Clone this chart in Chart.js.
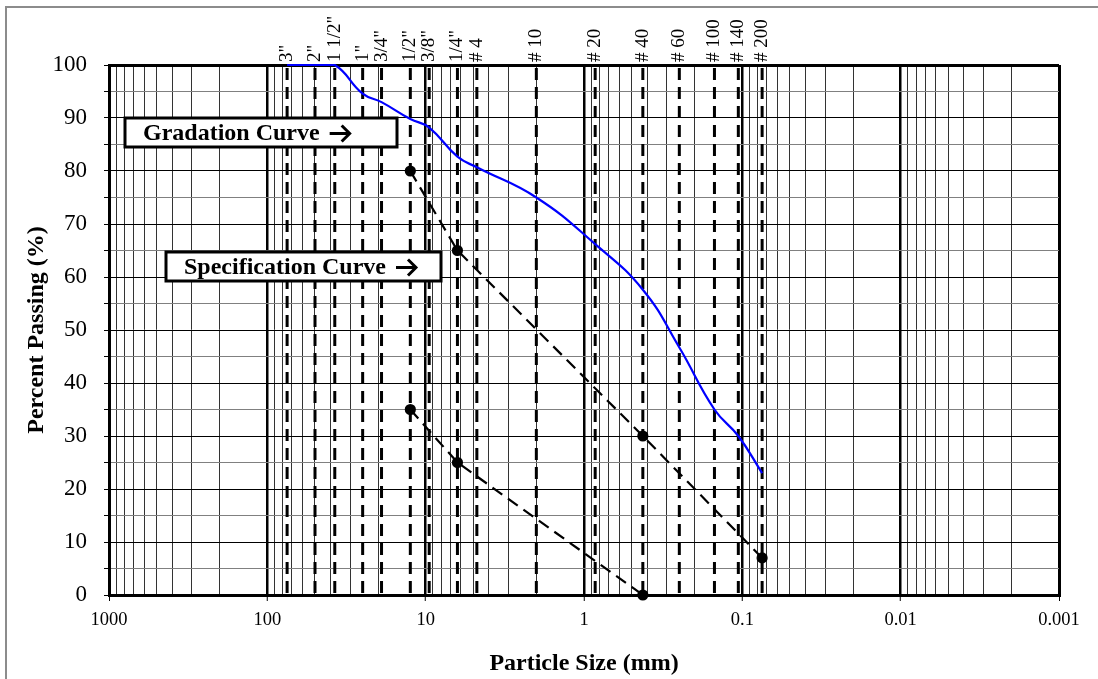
<!DOCTYPE html>
<html>
<head>
<meta charset="utf-8">
<script src="https://cdn.jsdelivr.net/npm/chart.js@4.4.1/dist/chart.umd.min.js"></script>
<style>
  html, body { margin: 0; padding: 0; background: #fff; }
  #wrap { position: relative; width: 1098px; height: 679px; }
</style>
</head>
<body>
<div id="wrap"><canvas id="gradChart" width="1098" height="679"></canvas></div>
<script>
// sieve openings (mm) and their names
const sieveLabels = ['3"', '2"', '1 1/2"', '1"', '3/4"', '1/2"', '3/8"', '1/4"', '# 4', '# 10', '# 20', '# 40', '# 60', '# 100', '# 140', '# 200'];
const sieveSizes = [75, 50, 37.5, 25, 19, 12.5, 9.5, 6.3, 4.75, 2.0, 0.85, 0.425, 0.25, 0.15, 0.106, 0.075];

// gradation curve, % passing at each sieve
const gradPassing = [100, 100, 100, 94.6, 93, 89.8, 88.2, 82.7, 80.7, 75, 66.2, 57.6, 46.7, 35, 30, 23];

// specification band
const specUpperSizes = [12.5, 6.3, 0.425, 0.075];
const specUpperPassing = [80, 65, 30, 7];
const specLowerSizes = [12.5, 6.3, 0.425];
const specLowerPassing = [35, 25, 0];

const xMin = 0.001, xMax = 1000;
const yMin = 0, yMax = 100, yStep = 5;

// 1..9 x 10^n lines for the log grid
const xGridValues = [];
for (let e = -3; e <= 2; e++) {
  for (let m = 1; m <= 9; m++) xGridValues.push(Number((m * Math.pow(10, e)).toPrecision(6)));
}
xGridValues.push(1000);

const isDecade = v => Math.abs(Math.log10(v) - Math.round(Math.log10(v))) < 1e-6;
const pair = (xs, ys) => xs.map((x, i) => ({ x: x, y: ys[i] }));

const serif = '"Liberation Serif", "Times New Roman", serif';

const sieveSets = sieveSizes.map(s => ({
  data: [{ x: s, y: yMax }, { x: s, y: yMin }],
  borderColor: '#000',
  borderWidth: 3,
  borderDash: [12, 7],
  borderDashOffset: -3,
  pointRadius: 0,
  tension: 0
}));

// outer frame
const framePlugin = {
  id: 'frame',
  beforeDraw(chart) {
    const ctx = chart.ctx;
    ctx.save();
    ctx.fillStyle = '#fff';
    ctx.fillRect(0, 0, chart.width, chart.height);
    ctx.strokeStyle = '#8c8c8c';
    ctx.lineWidth = 2;
    ctx.beginPath();
    ctx.moveTo(6, chart.height);
    ctx.lineTo(6, 7);
    ctx.lineTo(chart.width, 7);
    ctx.stroke();
    ctx.restore();
  }
};

// boxed labels
const boxes = [
  { text: 'Gradation Curve', left: 125, top: 118, width: 272, height: 29 },
  { text: 'Specification Curve', left: 166, top: 252, width: 275, height: 29 }
];

function drawArrow(ctx, x, cy) {
  ctx.save();
  ctx.strokeStyle = '#000';
  ctx.lineWidth = 3;
  ctx.lineCap = 'butt';
  ctx.lineJoin = 'miter';
  ctx.beginPath();
  ctx.moveTo(x, cy);
  ctx.lineTo(x + 19, cy);
  ctx.stroke();
  ctx.beginPath();
  ctx.moveTo(x + 12, cy - 8);
  ctx.lineTo(x + 20, cy);
  ctx.lineTo(x + 12, cy + 8);
  ctx.stroke();
  ctx.restore();
}

const labelPlugin = {
  id: 'labels',
  afterDatasetsDraw(chart) {
    const ctx = chart.ctx;
    ctx.save();
    boxes.forEach(b => {
      ctx.fillStyle = '#fff';
      ctx.fillRect(b.left, b.top, b.width, b.height);
      ctx.strokeStyle = '#000';
      ctx.lineWidth = 3;
      ctx.strokeRect(b.left, b.top, b.width, b.height);
      ctx.fillStyle = '#000';
      ctx.font = 'bold 24px ' + serif;
      ctx.textAlign = 'left';
      ctx.textBaseline = 'middle';
      const cy = b.top + b.height / 2 + 1;
      ctx.fillText(b.text, b.left + 18, cy);
      const w = ctx.measureText(b.text).width;
      drawArrow(ctx, b.left + 18 + w + 10, cy);
    });
    ctx.restore();
  },
  afterDraw(chart) {
    const ctx = chart.ctx;
    const xs = chart.scales.x;
    ctx.save();
    ctx.fillStyle = '#000';
    ctx.font = '19px ' + serif;
    ctx.textAlign = 'left';
    ctx.textBaseline = 'middle';
    sieveSizes.forEach((s, i) => {
      const px = xs.getPixelForValue(s);
      ctx.save();
      ctx.translate(px, chart.chartArea.top - 3);
      ctx.rotate(-Math.PI / 2);
      ctx.fillText(sieveLabels[i], 0, 0);
      ctx.restore();
    });
    ctx.restore();
  }
};

new Chart(document.getElementById('gradChart').getContext('2d'), {
  type: 'line',
  data: {
    datasets: [
      {
        label: 'Gradation Curve',
        data: pair(sieveSizes, gradPassing),
        borderColor: '#0000ff',
        borderWidth: 2.2,
        pointRadius: 0,
        tension: 0.45,
        clip: { left: 5, right: 5, top: 1, bottom: 5 }
      },
      {
        label: 'Specification Upper',
        data: pair(specUpperSizes, specUpperPassing),
        borderColor: '#000',
        borderWidth: 2.2,
        borderDash: [12, 7],
        pointRadius: 4.5,
        pointBackgroundColor: '#000',
        pointBorderColor: '#000',
        tension: 0,
        clip: false
      },
      {
        label: 'Specification Lower',
        data: pair(specLowerSizes, specLowerPassing),
        borderColor: '#000',
        borderWidth: 2.2,
        borderDash: [12, 7],
        pointRadius: 4.5,
        pointBackgroundColor: '#000',
        pointBorderColor: '#000',
        tension: 0,
        clip: false
      },
      ...sieveSets
    ]
  },
  options: {
    responsive: false,
    animation: false,
    layout: { padding: { top: 65, right: 39, left: 0, bottom: 0 } },
    plugins: {
      legend: { display: false },
      tooltip: { enabled: false }
    },
    scales: {
      x: {
        type: 'logarithmic',
        reverse: true,
        min: xMin,
        max: xMax,
        afterBuildTicks: scale => { scale.ticks = xGridValues.map(v => ({ value: v })); },
        afterFit: scale => { scale.height = 84; },
        ticks: {
          autoSkip: false,
          maxRotation: 0,
          padding: 8,
          color: '#000',
          font: { family: serif, size: 18.5 },
          callback: v => isDecade(v) ? String(v) : ''
        },
        grid: {
          color: c => isDecade(c.tick.value) ? '#000' : '#333',
          lineWidth: c => {
            const v = c.tick.value;
            if (v === xMin || v === xMax) return 3;
            return isDecade(v) ? 2.5 : 1;
          },
          tickColor: c => isDecade(c.tick.value) ? '#000' : 'rgba(0,0,0,0)',
          tickWidth: 1,
          tickLength: 6
        },
        border: { color: '#000', width: 3 },
        title: {
          display: true,
          text: 'Particle Size (mm)',
          color: '#000',
          font: { family: serif, size: 24, weight: 'bold' },
          padding: { top: 0, bottom: 1 }
        }
      },
      y: {
        min: yMin,
        max: yMax,
        afterFit: scale => { scale.width = 109; },
        ticks: {
          stepSize: yStep,
          autoSkip: false,
          padding: 17,
          color: '#000',
          font: { family: serif, size: 23 },
          callback: v => v % 10 === 0 ? v : ''
        },
        grid: {
          color: c => c.tick.value % 10 === 0 ? '#000' : '#808080',
          lineWidth: c => c.tick.value === yMax ? 3 : 1,
          tickColor: '#000',
          tickWidth: 1,
          tickLength: 5
        },
        border: { color: '#000', width: 3 },
        title: {
          display: true,
          text: 'Percent Passing (%)',
          color: '#000',
          font: { family: serif, size: 24, weight: 'bold' },
          padding: { top: 22, bottom: 0 }
        }
      }
    }
  },
  plugins: [framePlugin, labelPlugin]
});
</script>
</body>
</html>
